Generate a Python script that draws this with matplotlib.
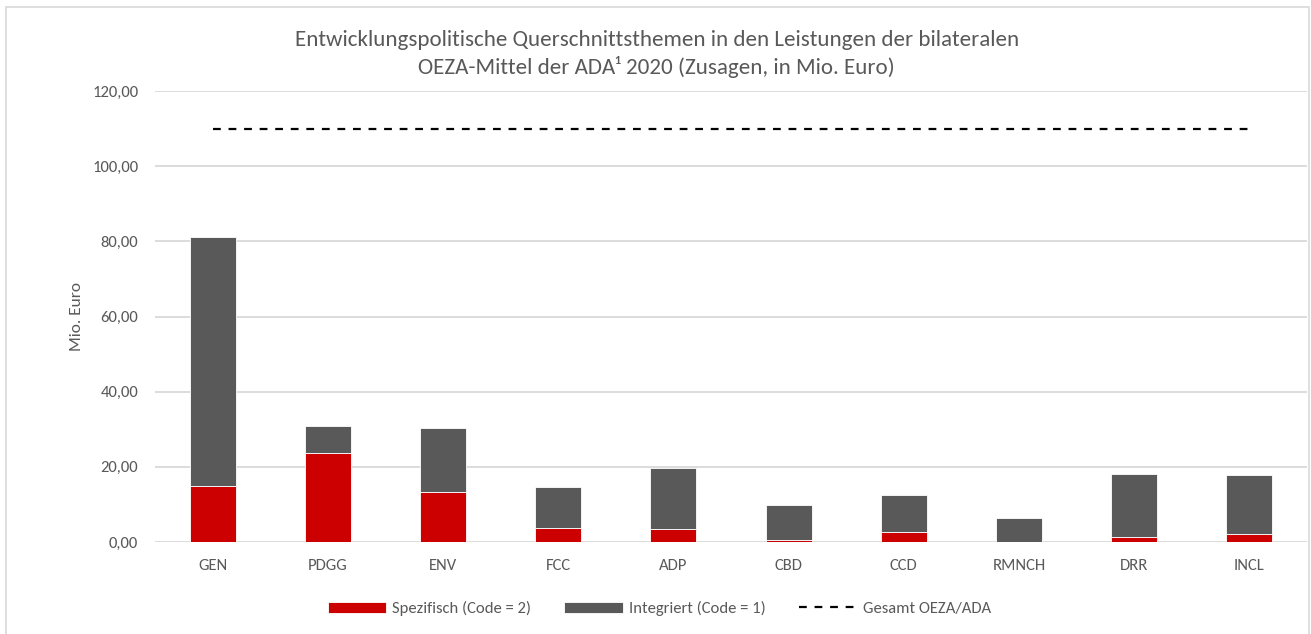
import matplotlib
matplotlib.use("Agg")
import matplotlib.pyplot as plt
from matplotlib.patches import Rectangle
from matplotlib.ticker import FuncFormatter
import numpy as np

# ------------------------------------------------------------
# Data (Mio. Euro)
# ------------------------------------------------------------
categories = ["GEN", "PDGG", "ENV", "FCC", "ADP", "CBD", "CCD", "RMNCH", "DRR", "INCL"]
spezifisch = [14.9, 23.6, 13.2, 3.6, 3.4, 0.6, 2.6, 0.1, 1.2, 2.2]
gesamt_thema = [81.2, 30.9, 30.2, 14.6, 19.8, 9.8, 12.4, 6.3, 18.0, 17.7]
integriert = [g - s for g, s in zip(gesamt_thema, spezifisch)]
gesamt_oeza = [109.8] * len(categories)

title = ("Entwicklungspolitische Querschnittsthemen in den Leistungen der bilateralen\n"
         "OEZA-Mittel der ADA\u00b9 2020 (Zusagen, in Mio. Euro)")

RED = "#CC0000"
GRAY = "#595959"
TXT = "#595959"
GRID = "#D9D9D9"

plt.rcParams["font.family"] = ["Carlito", "Lato", "DejaVu Sans"]

fig = plt.figure(figsize=(13.11, 6.34), dpi=100)
fig.patch.set_facecolor("white")

# outer chart frame
fig.add_artist(Rectangle((6 / 1311, -0.01), 1303 / 1311, 1 - 7 / 634 + 0.01,
                         transform=fig.transFigure, fill=False,
                         edgecolor="#D9D9D9", linewidth=1.2))

ax = fig.add_axes([155 / 1311, 92 / 634, 1152 / 1311, 451 / 634])

x = np.arange(len(categories))
w = 0.4
bars_s = ax.bar(x, spezifisch, w, color=RED, edgecolor="white", linewidth=0.6,
                label="Spezifisch (Code = 2)", zorder=3)
bars_i = ax.bar(x, integriert, w, bottom=spezifisch, color=GRAY, edgecolor="white",
                linewidth=0.6, label="Integriert (Code = 1)", zorder=3)
line, = ax.plot(x, gesamt_oeza, color="black", linestyle=(0, (3.5, 3.5)), linewidth=1.6,
                label="Gesamt OEZA/ADA", zorder=4)

ax.set_xlim(-0.5, len(categories) - 0.5)
ax.set_ylim(0, 120)
ax.set_yticks(range(0, 121, 20))
ax.yaxis.set_major_formatter(FuncFormatter(lambda v, p: f"{v:.2f}".replace(".", ",")))
ax.set_xticks(x)
ax.set_xticklabels(categories)
ax.tick_params(axis="both", length=0, colors=TXT, labelsize=12)
ax.tick_params(axis="y", pad=12)
ax.tick_params(axis="x", pad=12)
ax.grid(axis="y", color=GRID, linewidth=1.3, zorder=0)
for s in ax.spines.values():
    s.set_visible(False)

ax.set_ylabel("Mio. Euro", color=TXT, fontsize=12.5, labelpad=6)

fig.text(0.501, 0.915, title, ha="center", va="center", color=TXT,
         fontsize=16.6, linespacing=1.35)

leg = fig.legend([bars_s, bars_i, line],
                 ["Spezifisch (Code = 2)", "Integriert (Code = 1)", "Gesamt OEZA/ADA"],
                 loc="center", bbox_to_anchor=(0.503, 0.04), ncol=3, frameon=False,
                 fontsize=12, handlelength=3.5, handleheight=0.7,
                 handletextpad=0.35, columnspacing=2.0)
for t in leg.get_texts():
    t.set_color(TXT)

fig.savefig("out.png", dpi=100, facecolor="white")
